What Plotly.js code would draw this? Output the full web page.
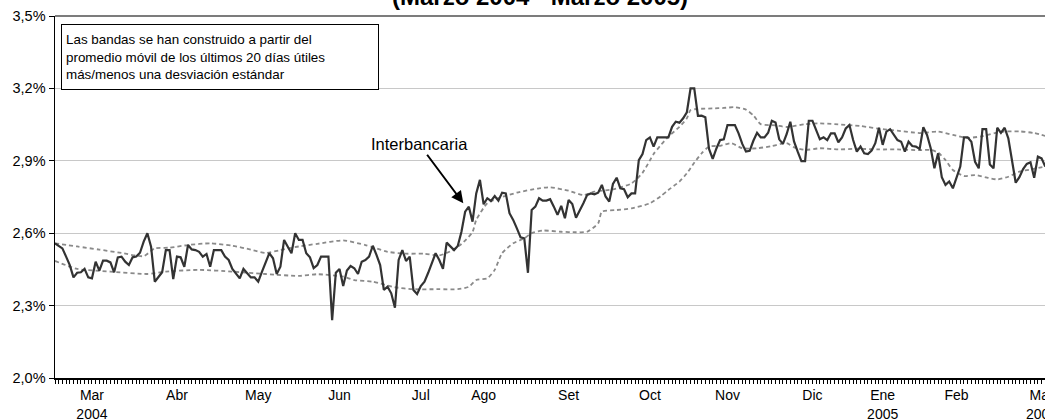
<!DOCTYPE html>
<html>
<head>
<meta charset="utf-8">
<script src="https://cdn.plot.ly/plotly-3.0.1.min.js"></script>
<style>
  html, body { margin: 0; padding: 0; overflow: hidden; background: #fff; }
  #chart { width: 1100px; height: 419px; }
</style>
</head>
<body>
<div id="chart"></div>
<script>
// Daily interbank rate (%), business days from early March 2004
const interbancaria = [
  2.558, 2.548, 2.537, 2.503, 2.468, 2.417, 2.436, 2.438, 2.452, 2.417, 2.413,
  2.482, 2.445, 2.486, 2.486, 2.479, 2.438, 2.500, 2.503, 2.482, 2.468,
  2.500, 2.503, 2.519, 2.565, 2.600, 2.544, 2.399, 2.417, 2.438, 2.530,
  2.530, 2.410, 2.503, 2.500, 2.461, 2.551, 2.533, 2.530, 2.523, 2.503,
  2.514, 2.461, 2.530, 2.530, 2.530, 2.503, 2.489, 2.452, 2.431, 2.413,
  2.452, 2.434, 2.417, 2.417, 2.399, 2.440, 2.475, 2.517, 2.496, 2.431, 2.461,
  2.572, 2.544, 2.517, 2.600, 2.572, 2.572, 2.517, 2.500, 2.455, 2.468,
  2.503, 2.503, 2.503, 2.240, 2.436, 2.452, 2.381, 2.445, 2.464, 2.455,
  2.431, 2.482, 2.489, 2.503, 2.548, 2.510, 2.468, 2.365, 2.378, 2.351,
  2.291, 2.489, 2.530, 2.485, 2.503, 2.365, 2.348, 2.381, 2.399, 2.436,
  2.475, 2.517, 2.489, 2.452, 2.561, 2.544, 2.530, 2.547, 2.606, 2.689,
  2.710, 2.648, 2.765, 2.821, 2.720, 2.745, 2.734, 2.754, 2.735, 2.768,
  2.765, 2.683, 2.655, 2.620, 2.583, 2.579, 2.436, 2.696, 2.710, 2.745,
  2.735, 2.735, 2.741, 2.710, 2.676, 2.713, 2.662, 2.738, 2.721, 2.664,
  2.693, 2.724, 2.758, 2.765, 2.761, 2.768, 2.800, 2.752, 2.731, 2.804,
  2.830, 2.786, 2.782, 2.749, 2.765, 2.765, 2.903, 2.928, 2.986, 2.997,
  2.959, 2.997, 2.997, 2.997, 2.997, 3.041, 3.062, 3.058, 3.076, 3.101,
  3.200, 3.200, 3.086, 3.087, 3.080, 2.949, 2.908, 2.951, 2.986, 2.989,
  3.048, 3.048, 3.048, 3.014, 2.970, 2.938, 2.941, 2.983, 3.016, 2.997,
  2.997, 3.016, 3.066, 3.059, 2.989, 2.970, 3.010, 3.062, 2.980, 2.938,
  2.899, 2.899, 3.066, 3.066, 3.031, 2.989, 2.997, 2.986, 3.014, 3.014,
  2.977, 2.997, 3.034, 3.048, 2.986, 2.938, 2.959, 2.931, 2.928, 2.942,
  2.973, 3.037, 2.966, 3.021, 3.031, 3.007, 2.986, 2.979, 2.938, 2.979,
  2.961, 2.959, 2.949, 3.039, 3.007, 2.952, 2.869, 2.931, 2.832, 2.800,
  2.814, 2.786, 2.834, 2.876, 2.997, 2.997, 2.979, 2.896, 2.869, 3.031,
  3.031, 2.885, 2.869, 3.037, 3.016, 3.037, 2.993, 2.903, 2.809, 2.832,
  2.866, 2.887, 2.894, 2.830, 2.917, 2.910, 2.876
];

// Upper band (moving average + 1 std), read at sample business days
const upperDays = [0, 6, 12, 18, 24, 27, 31, 36, 42, 48, 53, 57, 61, 66, 71, 78, 84, 90, 95, 100,
  104, 107, 110, 113, 114, 117, 120, 125, 131, 134, 139, 143, 146, 151, 156, 159, 162, 164, 166, 169,
  171, 172, 174, 178, 181, 184, 187, 189, 191, 195, 198, 203, 207, 211, 218, 224, 228, 234, 239, 243,
  247, 251, 256, 261, 265, 268];
const upperBand = [2.558, 2.545, 2.532, 2.518, 2.505, 2.537, 2.540, 2.551, 2.558, 2.548, 2.532, 2.518, 2.530, 2.545, 2.556, 2.570, 2.551, 2.523, 2.515, 2.515,
  2.508, 2.525, 2.555, 2.605, 2.655, 2.724, 2.745, 2.768, 2.786, 2.790, 2.776, 2.758, 2.772, 2.782, 2.806, 2.850, 2.928, 2.966, 3.000, 3.041,
  3.076, 3.110, 3.115, 3.117, 3.119, 3.122, 3.112, 3.088, 3.052, 3.047, 3.040, 3.052, 3.055, 3.052, 3.044, 3.031, 3.025, 3.015, 3.021, 3.007,
  2.995, 3.002, 3.020, 3.022, 3.015, 3.003];

// Lower band (moving average - 1 std)
const lowerDays = [0, 6, 15, 25, 30, 39, 48, 57, 66, 71, 78, 81, 86, 92, 97, 104, 109, 112, 114, 117,
  119, 121, 124, 127, 129, 132, 137, 141, 144, 147, 148, 152, 156, 161, 164, 166, 169, 171, 173, 175,
  177, 180, 183, 186, 190, 194, 198, 200, 203, 207, 212, 217, 223, 228, 234, 237, 239, 241, 243, 246,
  249, 252, 255, 258, 261, 264, 268];
const lowerBand = [2.485, 2.452, 2.441, 2.431, 2.441, 2.448, 2.441, 2.431, 2.423, 2.430, 2.420, 2.406, 2.399, 2.376, 2.368, 2.368, 2.368, 2.378, 2.406, 2.413,
  2.448, 2.517, 2.558, 2.579, 2.600, 2.611, 2.606, 2.604, 2.606, 2.641, 2.689, 2.696, 2.703, 2.724, 2.754, 2.779, 2.814, 2.848, 2.892, 2.931,
  2.959, 2.962, 2.973, 2.952, 2.952, 2.961, 2.973, 2.956, 2.945, 2.952, 2.947, 2.950, 2.947, 2.947, 2.944, 2.945, 2.934, 2.903, 2.862, 2.837,
  2.841, 2.831, 2.823, 2.834, 2.855, 2.864, 2.876];

// Month labels and the business day they sit on
const monthLabels = ['Mar<br>2004', 'Abr', 'May', 'Jun', 'Jul', 'Ago', 'Set', 'Oct', 'Nov', 'Dic', 'Ene<br>2005', 'Feb', 'Mar<br>2005'];
const monthTickDays = [10, 33, 55, 77, 99, 116, 139, 161, 182, 205, 224, 244, 267];

const yTickValues = [2.0, 2.3, 2.6, 2.9, 3.2, 3.5];
const yTickLabels = ['2,0%', '2,3%', '2,6%', '2,9%', '3,2%', '3,5%'];

const dayIndex = interbancaria.map((_, i) => i);
const FONT = 'Arial, "Liberation Sans", sans-serif';

const bandLine = { color: '#8a8a8a', width: 1.8, dash: '4px,3px', shape: 'spline', smoothing: 0.6 };

const traces = [
  { x: upperDays, y: upperBand, mode: 'lines', line: bandLine, hoverinfo: 'skip' },
  { x: lowerDays, y: lowerBand, mode: 'lines', line: bandLine, hoverinfo: 'skip' },
  { x: dayIndex, y: interbancaria, mode: 'lines', line: { color: '#333333', width: 2.2 }, hoverinfo: 'skip' }
];

const layout = {
  width: 1100, height: 419,
  margin: { l: 55, r: 3, t: 16, b: 41, pad: 0 },
  paper_bgcolor: '#ffffff', plot_bgcolor: '#ffffff',
  showlegend: false,
  font: { family: FONT, color: '#000' },
  xaxis: {
    range: [0, 282],
    tickmode: 'array', tickvals: monthTickDays, ticktext: monthLabels,
    ticks: 'outside', ticklen: 4, tickwidth: 1, tickcolor: '#000',
    minor: { tickmode: 'linear', tick0: 0, dtick: 1, ticks: 'outside', ticklen: 4, tickwidth: 1, tickcolor: '#000', showgrid: false },
    showline: true, linecolor: '#000', linewidth: 1.5,
    showgrid: false, zeroline: false,
    tickfont: { family: FONT, size: 14, color: '#000' }
  },
  yaxis: {
    range: [2.0, 3.5],
    tickmode: 'array', tickvals: yTickValues, ticktext: yTickLabels,
    ticks: 'outside', ticklen: 5, tickwidth: 1, tickcolor: '#000',
    showline: true, linecolor: '#000', linewidth: 1.5,
    showgrid: true, gridcolor: '#c8c8c8', gridwidth: 1.2, zeroline: false,
    tickfont: { family: FONT, size: 14.5, color: '#000' }
  },
  shapes: [
    { type: 'line', xref: 'paper', yref: 'paper', x0: 0, x1: 1, y0: 1, y1: 1, line: { color: '#505050', width: 1.5 } }
  ],
  annotations: [
    {
      text: '<b>(Marzo 2004 - Marzo 2005)</b>',
      xref: 'paper', yref: 'paper', x: 0.4655, y: 1, xanchor: 'center', yanchor: 'middle', yshift: 20,
      showarrow: false, font: { family: FONT, size: 24, color: '#000' }
    },
    {
      text: 'Las bandas se han construido a partir del<br>promedio móvil de los últimos 20 días útiles<br>más/menos una desviación estándar',
      xref: 'paper', yref: 'paper', x: 0.006, y: 0.978, xanchor: 'left', yanchor: 'top',
      align: 'left', valign: 'middle', width: 308, height: 56, borderpad: 4,
      bordercolor: '#000', borderwidth: 1, bgcolor: '#ffffff',
      showarrow: false, font: { family: FONT, size: 13.4, color: '#000' }
    },
    {
      text: 'Interbancaria',
      x: 110.5, y: 2.724, xref: 'x', yref: 'y',
      ax: -44, ay: -59, axref: 'pixel', ayref: 'pixel',
      showarrow: true, arrowhead: 2, arrowsize: 1.2, arrowwidth: 2, arrowcolor: '#000', standoff: 0,
      font: { family: FONT, size: 16.5, color: '#000' }
    }
  ]
};

Plotly.newPlot('chart', traces, layout, { staticPlot: true, displayModeBar: false });
</script>
</body>
</html>
